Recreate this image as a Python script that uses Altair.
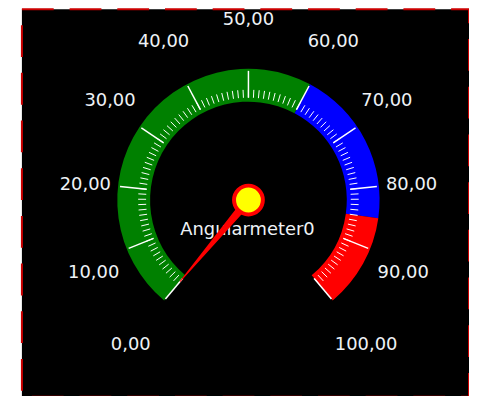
import math
import pandas as pd
import altair as alt

# ---- data ----
scale_min = [0]
scale_max = [100]
band_from = [0, 60, 85]
band_to = [60, 85, 100]
band_color = ["#008000", "#0000ff", "#ff0000"]
label_values = [0, 10, 20, 30, 40, 50, 60, 70, 80, 90, 100]
label_texts = ["0,00", "10,00", "20,00", "30,00", "40,00", "50,00",
               "60,00", "70,00", "80,00", "90,00", "100,00"]
minor_values = list(range(0, 101, 1))
needle_value = [0]
gauge_name = ["Angularmeter0"]

# ---- geometry / style ----
START_DEG, END_DEG = -140.0, 140.0
R_OUT, R_IN = 132, 99
TICK_IN, MINOR_OUT, MAJOR_OUT = 103, 111, 130
NEEDLE_LEN, NEEDLE_W = 107, 9
W, H = 450, 390
CX, CY = 228, 192  # centre inside the view, pixels

vmin, vmax = scale_min[0], scale_max[0]
def ang_of(field):
    return f"({START_DEG} + (datum.{field} - {vmin}) / ({vmax} - {vmin}) * ({END_DEG - START_DEG})) * PI / 180"
ang_expr = ang_of("v")

xs = alt.Scale(domain=[-CX, W - CX], range=[0, W], nice=False, zero=False)
ys = alt.Scale(domain=[-(H - CY), CY], range=[H, 0], nice=False, zero=False)

def X(f):
    return alt.X(f"{f}:Q", scale=xs, axis=None)

def Y(f):
    return alt.Y(f"{f}:Q", scale=ys, axis=None)

# bands
bands_df = pd.DataFrame({"a": band_from, "b": band_to, "col": band_color})
bands = alt.Chart(bands_df).transform_calculate(
    t0=ang_of("a"), t1=ang_of("b"), cx="0", cy="0",
).mark_arc(radius=R_OUT, radius2=R_IN, strokeWidth=0).encode(
    x=X("cx"), y=Y("cy"),
    theta=alt.Theta("t0:Q", scale=None), theta2="t1:Q",
    color=alt.Color("col:N", scale=None),
)

def ticks(values, r_out, sw):
    df = pd.DataFrame({"v": values})
    return alt.Chart(df).transform_calculate(
        a=ang_expr
    ).transform_calculate(
        x1=f"{TICK_IN} * sin(datum.a)", y1=f"{TICK_IN} * cos(datum.a)",
        x2=f"{r_out} * sin(datum.a)", y2=f"{r_out} * cos(datum.a)",
    ).mark_rule(color="white", strokeWidth=sw).encode(
        x=X("x1"), y=Y("y1"), x2="x2:Q", y2="y2:Q"
    )

minor = ticks(minor_values, MINOR_OUT, 1)
major = ticks(label_values, MAJOR_OUT, 1.5)

labels_df = pd.DataFrame({"v": label_values, "txt": label_texts})
labels = alt.Chart(labels_df).transform_calculate(
    a=ang_expr
).transform_calculate(
    sg="datum.a > 0.001 ? 1 : (datum.a < -0.001 ? -1 : 0)",
    lo="max(0, -cos(datum.a))",
).transform_calculate(
    lx="150 * sin(datum.a) + datum.sg * (15 + 12 * datum.lo * datum.lo)",
    ly="185 * cos(datum.a) - 4",
).mark_text(font="DejaVu Sans", fontSize=18, color="#eef2f6",
            align="center", baseline="middle").encode(
    x=X("lx"), y=Y("ly"), text="txt:N"
)

title = alt.Chart(pd.DataFrame({"name": gauge_name})).mark_text(
    font="DejaVu Sans", fontSize=18, color="#eef2f6", align="center", baseline="middle"
).encode(x=alt.value(CX - 1), y=alt.value(CY + 30), text="name:N")

needle_df = pd.DataFrame({"v": needle_value * 2, "t": [0, 1]})
needle = alt.Chart(needle_df).transform_calculate(
    a=ang_expr
).transform_calculate(
    nx=f"datum.t * {NEEDLE_LEN} * sin(datum.a)",
    ny=f"datum.t * {NEEDLE_LEN} * cos(datum.a)",
    w=f"{NEEDLE_W} * (1 - datum.t)",
).mark_trail(color="#ff0000").encode(
    x=X("nx"), y=Y("ny"), size=alt.Size("w:Q", scale=None, legend=None), order="t:Q"
)

knob = alt.Chart(pd.DataFrame({"v": needle_value})).transform_calculate(
    cx="0", cy="0"
).mark_point(shape="circle", filled=True, fill="#ffff00", stroke="#ff0000",
             strokeWidth=4, size=841, opacity=1).encode(x=X("cx"), y=Y("cy"))

chart = alt.layer(bands, minor, major, labels, title, needle, knob).properties(
    width=W, height=H,
    autosize="none",
    padding={"left": 14, "top": 0, "right": 0, "bottom": 0},
    background="white",
).configure_view(
    fill="black", stroke="#cc0000", strokeDash=[32, 16], strokeWidth=2
)

chart.save("out.html", embed_options={"renderer": "svg", "actions": False})
